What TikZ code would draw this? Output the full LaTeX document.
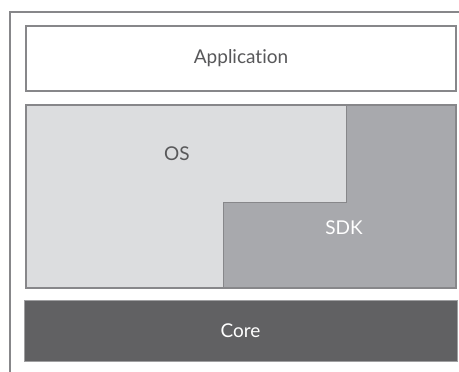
\documentclass[tikz,border=0pt]{standalone}
\usepackage{fontspec}
\setmainfont{Lato}[Ligatures=NoCommon]
\definecolor{os-grey}{HTML}{DCDDDF}
\definecolor{sdk-grey}{HTML}{A8A9AD}
\definecolor{core-grey}{HTML}{616163}
\definecolor{line-grey}{HTML}{87878A}
\definecolor{text-grey}{HTML}{58585A}

\begin{document}
\begin{tikzpicture}[x=1pt, y=-1pt, nodes={inner sep=0pt, font=\fontsize{19}{22}\selectfont},
    layer/.style={draw=line-grey, line width=1.2pt}]
        \useasboundingbox (0,0) rectangle (459,372);

        % frame
        \coordinate (f1) at (10,372);
        \coordinate (f2) at (10,12);
        \coordinate (f3) at (459,12);
        \draw[line-grey, line width=1.3pt] (f1) -- (f2) -- (f3);

        % boxes
        \node[layer, fill=white, minimum width=430pt, minimum height=65pt, text=text-grey] (app) at (241,58.5) {Application};
        \node[draw=line-grey!80, line width=0.8pt, fill=core-grey, minimum width=433pt, minimum height=61pt, text=white] (core) at (240.5,330.5) {Core};

        % OS / SDK step
        \coordinate (tl) at (26,105);
        \coordinate (tm) at (346,105);
        \coordinate (tr) at (456,105);
        \coordinate (st) at (346,202);
        \coordinate (sb) at (223,202);
        \coordinate (bm) at (223,288);
        \coordinate (br) at (456,288);
        \coordinate (bl) at (26,288);
        \fill[os-grey] (tl) -- (tm) -- (st) -- (sb) -- (bm) -- (bl) -- cycle;
        \fill[sdk-grey] (tm) -- (tr) -- (br) -- (bm) -- (sb) -- (st) -- cycle;
        \draw[layer] (tl) rectangle (br);
        \draw[layer, line width=1pt] (tm) -- (st) -- (sb) -- (bm);

        \node[text=text-grey] (os) at (177,154) {OS};
        \node[text=white] (sdk) at (344,228) {SDK};
      \end{tikzpicture}
\end{document}
